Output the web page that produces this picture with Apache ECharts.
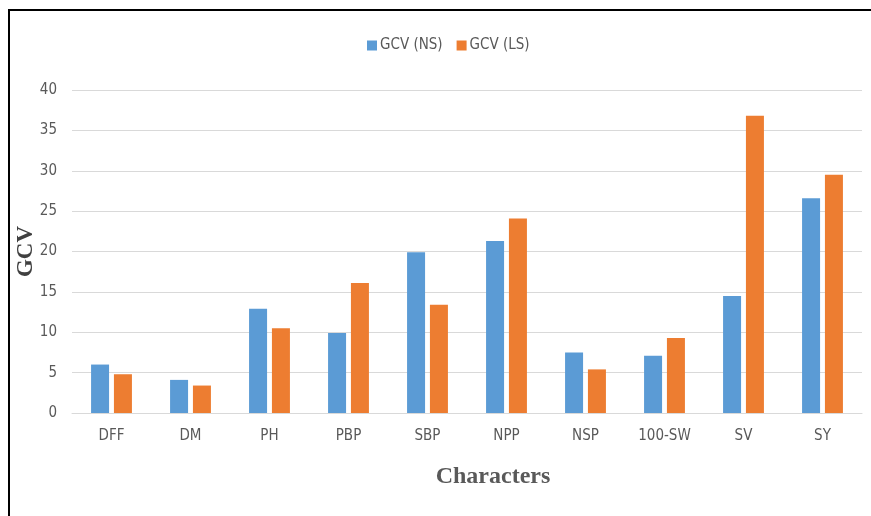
<!DOCTYPE html>
<html>
<head>
<meta charset="utf-8">
<script src="https://cdn.jsdelivr.net/npm/echarts@6/dist/echarts.min.js"></script>
<style>
  html, body { margin: 0; padding: 0; background: #fff; }
  #grafico { width: 871px; height: 516px; }
</style>
</head>
<body>
<div id="grafico"></div>
<script>
// datos
const caracteres = ['DFF', 'DM', 'PH', 'PBP', 'SBP', 'NPP', 'NSP', '100-SW', 'SV', 'SY'];
const gcvNS = [6.0, 4.1, 12.9, 9.9, 19.9, 21.3, 7.5, 7.1, 14.5, 26.6];
const gcvLS = [4.8, 3.4, 10.5, 16.1, 13.4, 24.1, 5.4, 9.3, 36.8, 29.5];
const nombresSeries = ['GCV (NS)', 'GCV (LS)'];

const fuenteEtiquetas = "'Liberation Sans Narrow', 'DejaVu Sans Condensed', 'Open Sans', sans-serif";
const fuenteTitulos = "'Liberation Serif', 'DejaVu Serif', serif";

const chart = echarts.init(document.getElementById('grafico'));

const option = {
  backgroundColor: '#ffffff',
  animation: false,
  // marco negro del recuadro original (arriba e izquierda)
  graphic: [{
    type: 'rect',
    shape: { x: 9, y: 10, width: 900, height: 540 },
    style: { fill: 'none', stroke: '#000', lineWidth: 2 },
    silent: true
  }],
  legend: {
    data: nombresSeries,
    top: 33,
    left: 362,
    itemWidth: 10,
    itemHeight: 10,
    itemGap: 14,
    icon: 'rect',
    textStyle: {
      fontFamily: fuenteEtiquetas,
      fontSize: 15,
      color: '#595959',
      padding: [0, 0, 0, -2]
    }
  },
  grid: {
    left: 72,
    right: 9,
    top: 90,
    bottom: 103,
    outerBoundsMode: 'none'
  },
  xAxis: {
    type: 'category',
    data: caracteres,
    name: 'Characters',
    nameLocation: 'middle',
    nameGap: 52,
    nameMoveOverlap: false,
    nameTextStyle: {
      fontFamily: fuenteTitulos,
      fontWeight: 'bold',
      fontSize: 24,
      color: '#595959',
      padding: [0, 0, 0, 52]
    },
    axisLine: { lineStyle: { color: '#d9d9d9', width: 1 } },
    axisTick: { show: false },
    axisLabel: {
      margin: 16,
      fontFamily: fuenteEtiquetas,
      fontSize: 15,
      color: '#595959'
    }
  },
  yAxis: {
    type: 'value',
    min: 0,
    max: 40,
    interval: 5,
    name: 'GCV',
    nameLocation: 'middle',
    nameGap: 34,
    nameMoveOverlap: false,
    nameTextStyle: {
      fontFamily: fuenteTitulos,
      fontWeight: 'bold',
      fontSize: 23,
      color: '#404040'
    },
    axisLine: { show: false },
    axisTick: { show: false },
    axisLabel: {
      margin: 15,
      fontFamily: fuenteEtiquetas,
      fontSize: 15,
      color: '#595959'
    },
    splitLine: { lineStyle: { color: '#d9d9d9', width: 1 } }
  },
  series: [
    {
      name: nombresSeries[0],
      type: 'bar',
      data: gcvNS,
      barWidth: 18,
      barGap: '27%',
      itemStyle: { color: '#5b9bd5' }
    },
    {
      name: nombresSeries[1],
      type: 'bar',
      data: gcvLS,
      barWidth: 18,
      barGap: '27%',
      itemStyle: { color: '#ed7d31' }
    }
  ]
};

chart.setOption(option);
</script>
</body>
</html>
